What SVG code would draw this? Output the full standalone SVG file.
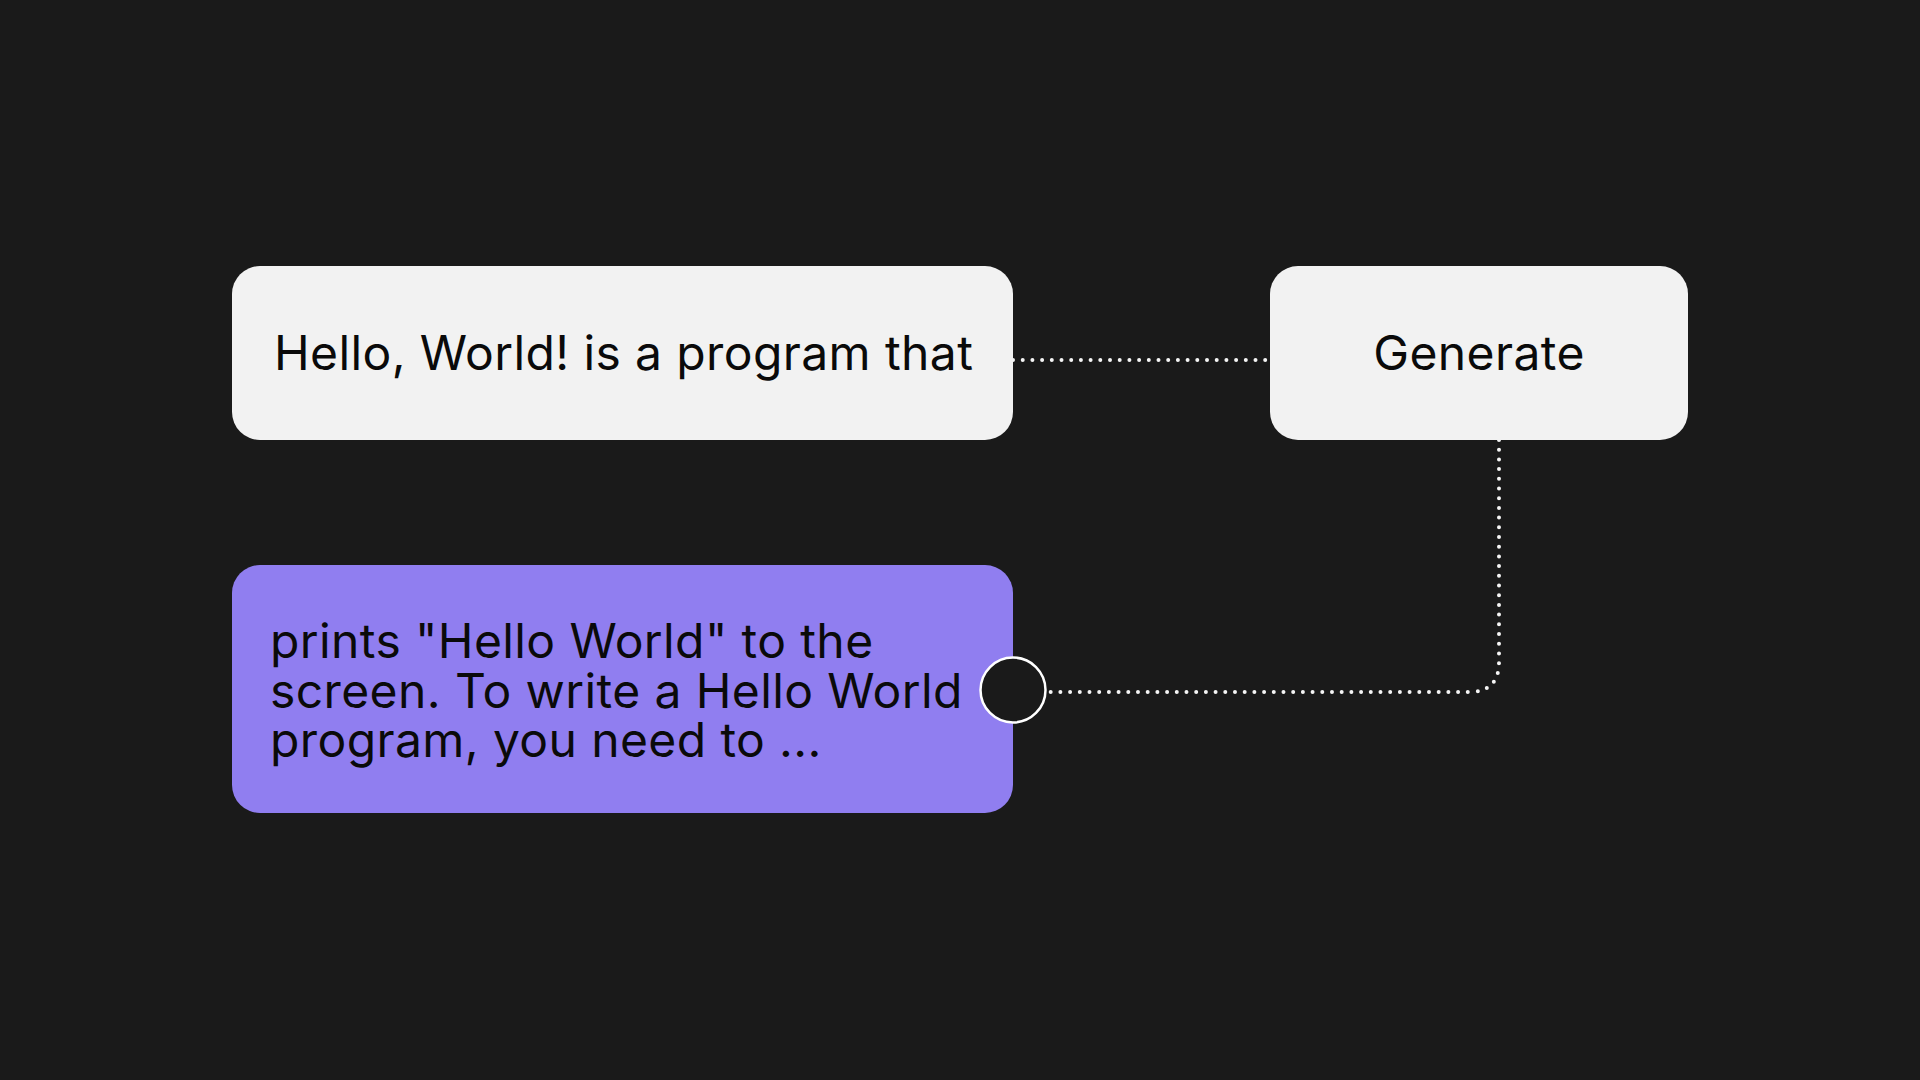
<svg xmlns="http://www.w3.org/2000/svg" width="1920" height="1080" viewBox="0 0 1920 1080">
<style>
.box{fill:#f2f2f2}
.out{fill:#907ef0}
.t{font-family:Inter,"Liberation Sans",sans-serif;font-size:48px;fill:#0a0a0a;letter-spacing:0.4px}
.c{fill:none;stroke:#f5f5f5;stroke-width:4;stroke-linecap:round;stroke-dasharray:0 9.7}
</style>
<rect width="1920" height="1080" fill="#1a1a1a"/>
<g id="connectors">
<path class="c" d="M1013 360 H1270"/>
<path class="c" d="M1499 440 V662 Q1499 692 1469 692 H1050"/>
</g>
<g id="input">
<rect class="box" x="232" y="266" width="781" height="174" rx="28"/>
<text class="t" x="274" y="370">Hello, World! is a program that</text>
</g>
<g id="generate">
<rect class="box" x="1270" y="266" width="418" height="174" rx="28"/>
<text class="t" x="1479" y="370" text-anchor="middle">Generate</text>
</g>
<g id="output">
<rect class="out" x="232" y="565" width="781" height="248" rx="28"/>
<text class="t" x="270" y="658">prints "Hello World" to the</text>
<text class="t" x="270" y="708">screen. To write a Hello World</text>
<text class="t" x="270" y="757">program, you need to ...</text>
<circle cx="1013" cy="690" r="32.5" fill="#1a1a1a" stroke="#ffffff" stroke-width="2.5"/>
</g>
</svg>
